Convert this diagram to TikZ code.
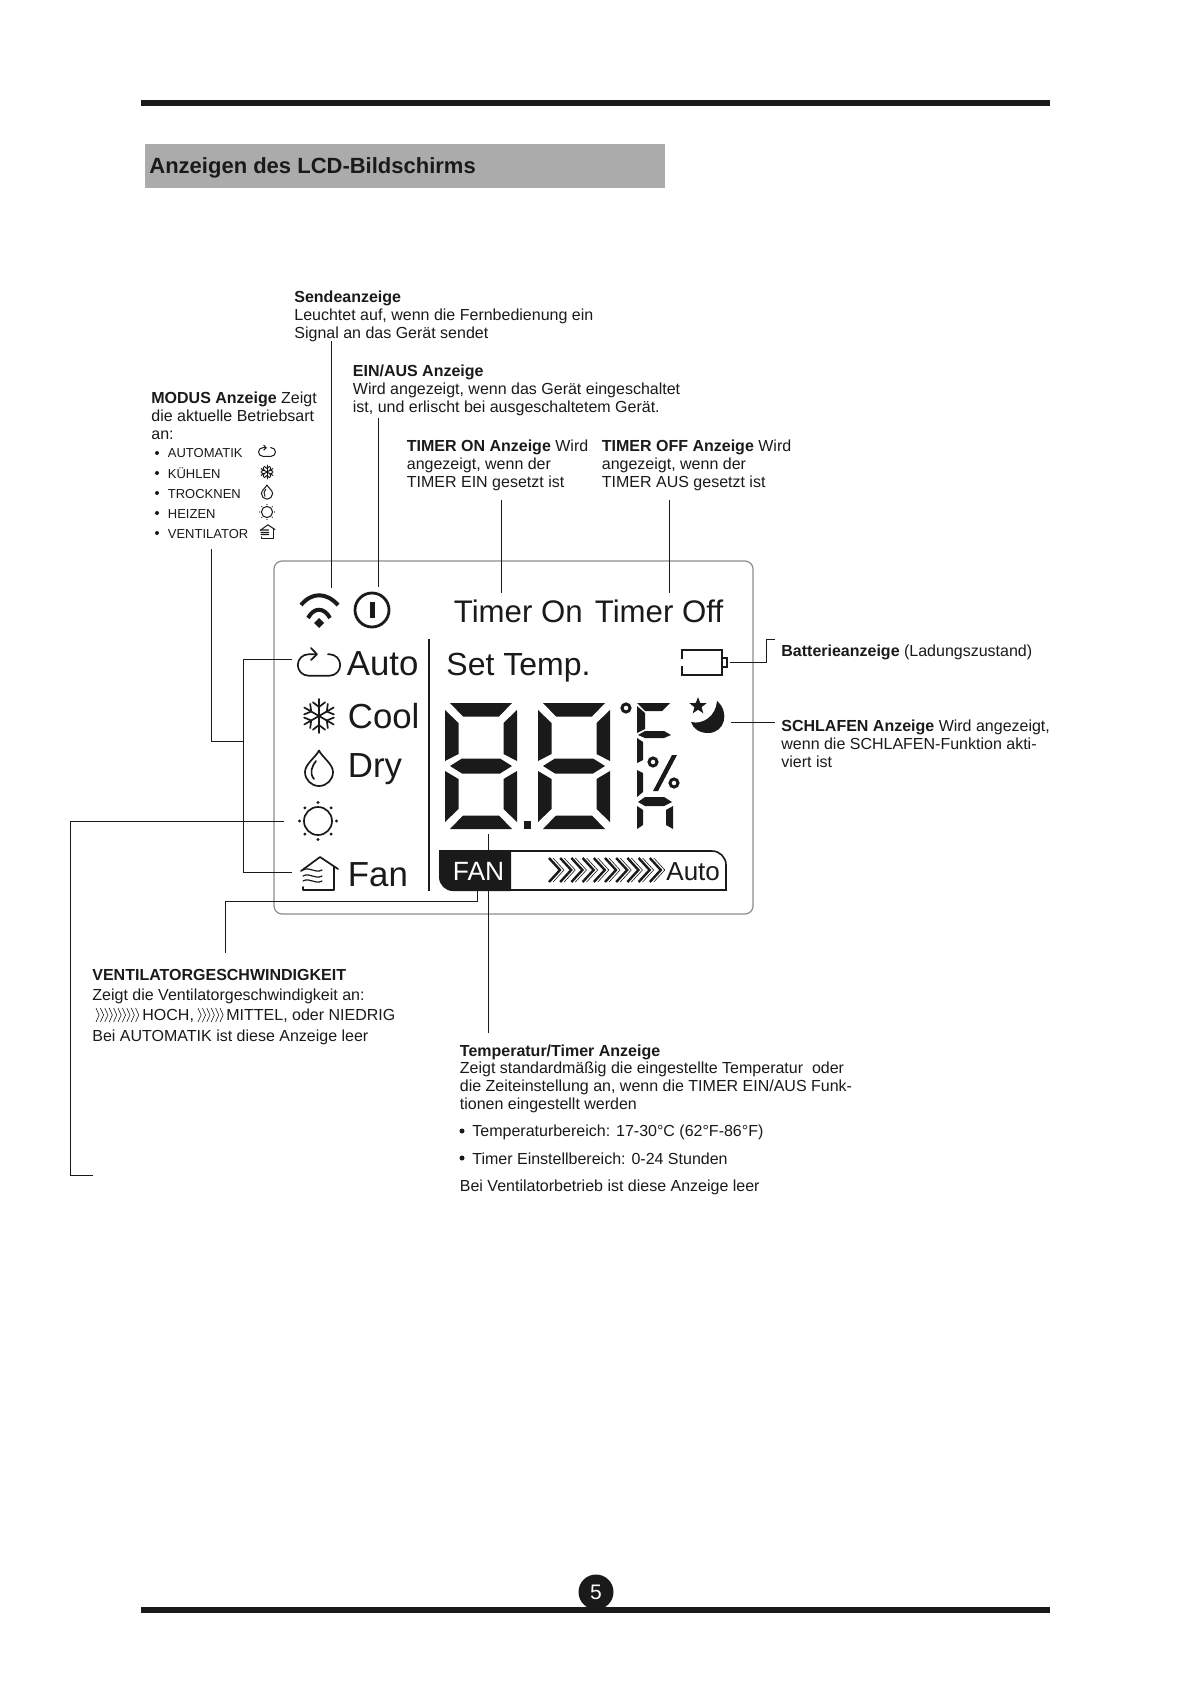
\documentclass[tikz,border=0pt]{standalone}
\usepackage{fontspec}
\setmainfont{Liberation Sans}
\usetikzlibrary{shapes.geometric, positioning, calc}

\definecolor{inkblack}{HTML}{1A1A1A}
\definecolor{titlegray}{HTML}{ABABAB}
\definecolor{bezelgray}{HTML}{8C8C8C}

\tikzset{
    pics/lcddigit/.style={code={
        \fill (5,0) -- (67,0) -- (54,13.5) -- (18,13.5) -- cycle;
        \fill (0,7) -- (13.5,20) -- (13.5,51) -- (0,58) -- cycle;
        \fill (72,7) -- (58.5,20) -- (58.5,51) -- (72,58) -- cycle;
        \fill (5,63) -- (17,55.5) -- (55,55.5) -- (67,63) -- (55,70.5) -- (17,70.5) -- cycle;
        \fill (0,68) -- (13.5,76) -- (13.5,106) -- (0,119) -- cycle;
        \fill (72,68) -- (58.5,76) -- (58.5,106) -- (72,119) -- cycle;
        \fill (5,126) -- (18,112.5) -- (54,112.5) -- (67,126) -- cycle;
    }},
    pics/autoicon/.style={code={
        \draw[icon] (-3,-10.7) -- (-10.5,-10.7) arc (270:90:10.7) -- (10.5,10.7) arc (90:-90:10.7) -- (9,-10.7);
        \draw[icon] (-8,-17) -- (-2,-10.7) -- (-8,-5);
    }},
    pics/snowicon/.style={code={
        \foreach \a in {30,90,...,330} {
            \draw[icon] (0,0) -- (\a:17);
            \draw[icon] (\a:9) -- (\a+24:15);
            \draw[icon] (\a:9) -- (\a-24:15);
        }
    }},
    pics/dropicon/.style={code={
        \draw[icon] (0,-17.5) .. controls (-3,-11) and (-14,-4) .. (-14,4) arc (180:0:14) .. controls (14,-4) and (3,-11) .. cycle;
        \draw[icon] (-5,11) .. controls (-10,5) and (-7,-2) .. (-3,-7);
    }},
    pics/sunicon/.style={code={
        \draw[icon] (0,0) circle [radius=14];
        \foreach \a in {0,45,...,315} {
            \fill (\a:18.5) circle [radius=1.6];
        }
    }},
    pics/houseicon/.style={code={
        \draw[icon] (-17,-4) -- (2,-18) -- (20,-6);
        \draw[icon] (16,-8) -- (16,15) -- (-15,15) -- (-15,12);
        \draw[icon, line width=.6pt] (-15,-5) .. controls (-8,-9) and (-3,-1) .. (4,-5);
        \draw[icon, line width=.6pt] (-15,1) .. controls (-8,-3) and (-3,5) .. (4,1);
        \draw[icon, line width=.6pt] (-15,6) .. controls (-8,2) and (-3,10) .. (4,6);
    }},
    pics/chevronrow/.style n args={3}{code={
        \foreach \i in {1,...,#1} {
            \draw[line width=.3pt] ({(\i-1)*#2},-#3) -- ({(\i-1)*#2+#3*.45},0) -- ({(\i-1)*#2},#3);
        }
    }}
}

\begin{document}
\begin{tikzpicture}[
    x=.5pt, y=-.5pt,
    color=inkblack,
    icon/.style={line width=.85pt, line cap=round, line join=round},
    bodytext/.style={anchor=north west, inner sep=0, align=left, font=\fontsize{8}{8.85}\selectfont},
    smalltext/.style={anchor=base west, inner sep=0, font=\fontsize{6.5}{7}\selectfont},
    lcdtext/.style={anchor=base west, inner sep=0, font=\fontsize{15.6}{16}\selectfont},
    modetext/.style={anchor=base west, inner sep=0, font=\fontsize{17.4}{18}\selectfont},
    leader/.style={line width=.5pt, line join=miter},
    rulebar/.style={fill=inkblack, draw=none}
]

\useasboundingbox (0,0) rectangle (1191,1684);
\fill[white] (0,0) rectangle (1191,1684);

\fill[rulebar] (141,100) rectangle (1050,106);
\fill[rulebar] (141,1607) rectangle (1050,1613);
\node[circle, fill=inkblack, text=white, minimum size=17.5pt, inner sep=0, font=\fontsize{10.5}{11}\selectfont] (pageno) at (596,1592) {5};

\node[rectangle, fill=titlegray, minimum width=260pt, minimum height=22pt, inner sep=0, anchor=north west] (titlebar) at (145,144) {};
\node[anchor=west, inner sep=0, font=\bfseries\fontsize{11}{12}\selectfont] (title) at (149,168) {Anzeigen des LCD-Bildschirms};

\node[bodytext] (sendeText) at (294,291) {\textbf{Sendeanzeige}\\Leuchtet auf, wenn die Fernbedienung ein\\Signal an das Gerät sendet};
\node[bodytext] (einText) at (352.5,365) {\textbf{EIN/AUS Anzeige}\\Wird angezeigt, wenn das Gerät eingeschaltet\\ist, und erlischt bei ausgeschaltetem Gerät.};
\node[bodytext] (modusText) at (151,392) {\textbf{MODUS Anzeige} Zeigt\\die aktuelle Betriebsart\\an:};
\node[bodytext] (onText) at (406.5,440) {\textbf{TIMER ON Anzeige} Wird\\angezeigt, wenn der\\TIMER EIN gesetzt ist};
\node[bodytext] (offText) at (601.5,440) {\textbf{TIMER OFF Anzeige} Wird\\angezeigt, wenn der\\TIMER AUS gesetzt ist};
\node[bodytext] (battText) at (781,645) {\textbf{Batterieanzeige} (Ladungszustand)};
\node[bodytext] (schlafText) at (781,720) {\textbf{SCHLAFEN Anzeige} Wird angezeigt,\\wenn die SCHLAFEN-Funktion akti-\\viert ist};
\node[bodytext, font=\fontsize{8}{10.1}\selectfont] (fanText) at (92,969) {\textbf{VENTILATORGESCHWINDIGKEIT}\\Zeigt die Ventilatorgeschwindigkeit an:\\\hspace{25pt}HOCH, \hspace{14pt}MITTEL, oder NIEDRIG\\Bei AUTOMATIK ist diese Anzeige leer};
\node[bodytext] (tempText) at (459.5,1044) {\textbf{Temperatur/Timer Anzeige}\\Zeigt standardmäßig die eingestellte Temperatur\ \ oder\\die Zeiteinstellung an, wenn die TIMER EIN/AUS Funk-\\tionen eingestellt werden};
\node[bodytext] (rangeTemp) at (472,1124.5) {Temperaturbereich: 17-30°C (62°F-86°F)};
\node[bodytext] (rangeTimer) at (472,1152) {Timer Einstellbereich: 0-24 Stunden};
\node[bodytext] (tempNote) at (459.5,1179.5) {Bei Ventilatorbetrieb ist diese Anzeige leer};
\fill (462,1131) circle [radius=2.5];
\fill (462,1158) circle [radius=2.5];

\pic at (96,1015) {chevronrow={10}{4.4}{7}};
\pic at (198,1015) {chevronrow={6}{4.4}{7}};

\foreach \y/\name/\iconname/\i in {458/AUTOMATIK/autoicon/1, 478/KÜHLEN/snowicon/2, 498/TROCKNEN/dropicon/3, 518/HEIZEN/sunicon/4, 538/VENTILATOR/houseicon/5} {
    \fill (157,\y-5) circle [radius=2];
    \node[smalltext] (modeRow\i) at (167.5,\y) {\name};
    \pic[scale=.4, icon/.append style={line width=.5pt}] at (267,\y-6) {\iconname};
}

\draw[bezelgray, line width=.6pt, rounded corners=4pt] (274,561) rectangle (753,914);
\draw[line width=.7pt] (429,639) -- (429,891);

\coordinate (wifiTop) at (331,588);
\coordinate (powerTop) at (378,587);
\coordinate (onTop) at (501,593);
\coordinate (offTop) at (669,593);
\coordinate (modeJoin) at (243,741);
\coordinate (autoEnd) at (292,659);
\coordinate (fanEnd) at (292,872);
\coordinate (heatEnd) at (284,821);
\coordinate (heatTail) at (93,1175);
\coordinate (battEnd) at (730,662);
\coordinate (battTail) at (775,639);
\coordinate (moonEnd) at (731,722);
\coordinate (moonTail) at (775,722);
\coordinate (fanBarEnd) at (477,891);
\coordinate (fanTail) at (225,953);
\coordinate (digitEnd) at (488.5,834);
\coordinate (tempTail) at (488.5,1033);

\draw[leader] (331,341) -- (wifiTop);
\draw[leader] (378,418) -- (powerTop);
\draw[leader] (501,500) -- (onTop);
\draw[leader] (669,500) -- (offTop);
\draw[leader] (211,549) |- (modeJoin);
\draw[leader] (autoEnd) -| (243,872) -- (fanEnd);
\draw[leader] (heatEnd) -- (70,821) |- (heatTail);
\draw[leader] (battEnd) -- (766,662) |- (battTail);
\draw[leader] (moonEnd) -- (moonTail);
\draw[leader] (digitEnd) -- (tempTail);

\pic at (319,665) {autoicon};
\pic at (319,716) {snowicon};
\pic at (319,768) {dropicon};
\pic at (318,821) {sunicon};
\pic at (318,875) {houseicon};

\draw[line width=2pt] (301,605) .. controls (312,592) and (326,592) .. (338,605);
\draw[line width=2pt] (308,618) .. controls (314,607) and (324,607) .. (330,618);
\fill (319,618) -- (324,623) -- (319,628) -- (314,623) -- cycle;
\draw[line width=1.4pt] (372,610) circle [radius=17];
\fill (369.5,602) rectangle (374.5,618);

\node[lcdtext] (timerOn) at (453.5,622) {Timer On};
\node[lcdtext] (timerOff) at (594.5,622) {Timer Off};
\node[lcdtext, font=\fontsize{16}{17}\selectfont] (setTemp) at (446,675) {Set Temp.};
\node[modetext] (modeAuto) at (346.5,675) {Auto};
\node[modetext] (modeCool) at (347.5,728) {Cool};
\node[modetext] (modeDry) at (347.5,777) {Dry};
\node[modetext] (modeFan) at (347.5,886) {Fan};

\pic at (445,703) {lcddigit};
\pic at (538,703) {lcddigit};
\fill (524,821) rectangle (531,829);
\draw[line width=1.5pt] (626,708) circle [radius=4];
\fill (637,703) -- (670,703) -- (662,711) -- (645,711) -- cycle;
\fill (637,706) -- (645,713) -- (645,729) -- (637,733) -- cycle;
\fill (638,735) -- (645,731) -- (664,731) -- (671,735) -- (664,738) -- (645,738) -- cycle;
\fill (637,738) -- (643,742) -- (643,760) -- (637,763) -- cycle;
\fill (637,770) -- (643,773) -- (643,792) -- (637,797) -- cycle;
\fill (638,802) -- (645,797) -- (664,797) -- (672,802) -- (664,806) -- (645,806) -- cycle;
\fill (637,806) -- (643,810) -- (643,825) -- (637,829) -- cycle;
\fill (673,806) -- (666,810) -- (666,825) -- (673,829) -- cycle;
\draw[line width=1.5pt] (653,762) circle [radius=4];
\draw[line width=1.5pt] (674,783) circle [radius=4];
\fill (672,755) -- (677,755) -- (658,791) -- (653,791) -- cycle;

\fill (717,701) .. controls (730,712) and (725,733) .. (708,733) .. controls (700,733) and (693,729) .. (691,722) .. controls (703,725) and (716,716) .. (717,701) -- cycle;
\node[star, star points=5, star point ratio=2.4, fill=inkblack, minimum size=9pt, inner sep=0] (moonStar) at (698,706) {};

\draw[line width=.8pt] (682,659) -- (682,650) -- (722,650) -- (722,675) -- (682,675) -- (682,666);
\draw[line width=.7pt] (722,658) -- (727,658) -- (727,667) -- (722,667);

\fill (439,850) [rounded corners=7pt] -- (439,891) [sharp corners] -- (511,891) -- (511,850) -- cycle;
\draw[line width=.8pt] (511,851) [rounded corners=7pt] -- (726,851) [sharp corners] -- (726,890) -- (511,890);
\draw[leader] (fanBarEnd) |- (225,901) -- (fanTail);
\node[anchor=base west, inner sep=0, text=white, font=\fontsize{13.2}{14}\selectfont] (fanLabel) at (452.5,880) {FAN};
\node[anchor=base west, inner sep=0, font=\fontsize{13}{14}\selectfont] (autoLabel) at (666,880) {Auto};
\foreach \i in {0,...,9} {
    \draw[line width=1.2pt, line join=miter] (549+\i*11.2,858) -- (560+\i*11.2,870) -- (549+\i*11.2,882);
    \draw[line width=.3pt] (553+\i*11.2,858) -- (564+\i*11.2,870) -- (553+\i*11.2,882);
}

\end{tikzpicture}
\end{document}
